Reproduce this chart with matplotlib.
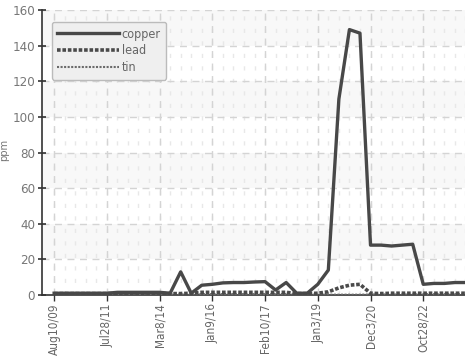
import matplotlib
matplotlib.use("Agg")
import matplotlib.pyplot as plt
import numpy as np

plt.rcParams['font.family'] = ['DejaVu Sans']
plt.rcParams['font.stretch'] = 'condensed'

tick_labels = ["Aug10/09", "Jul28/11", "Mar8/14", "Jan9/16", "Feb10/17", "Jan3/19", "Dec3/20", "Oct28/22"]
tick_every = 5

copper = [1, 1, 1, 1, 1, 1, 1.5, 1.5, 1.5, 1.5, 1.5, 1, 13, 1, 5.5, 6, 6.8, 7, 7, 7.3,
          7.5, 2.8, 7, 1, 1, 6, 14, 110, 149, 147, 28, 28, 27.5, 28, 28.5, 6, 6.5, 6.5, 7, 7]
lead = [0.8, 0.8, 0.8, 0.8, 0.8, 0.8, 0.8, 0.8, 0.8, 0.8, 0.8, 0.8, 0.8, 1, 1.5, 1.5, 1.5, 1.5, 1.5, 1.5,
        1.5, 1.5, 1.5, 0.8, 0.8, 1, 1.8, 4, 5.5, 6, 1, 0.8, 1, 1, 1, 1, 1, 1, 1, 1]
tin = [0.3, 0.3, 0.3, 0.3, 0.3, 0.3, 0.3, 0.3, 0.3, 0.3, 0.3, 0.3, 0.3, 0.3, 0.5, 0.5, 0.5, 0.5, 0.5, 0.5,
       0.5, 0.5, 0.5, 0.2, 0.2, 0.2, 0.2, 0.2, 0.2, 0.2, 0.3, 0.3, 0.3, 0.3, 0.3, 0.5, 0.5, 0.5, 0.5, 0.5]

x = np.arange(len(copper))

fig = plt.figure(figsize=(4.65, 3.61), dpi=100)
ax = fig.add_axes([42/465, 1-295/361, 1-42/465 + 0.01, (295-10)/361])

# background bands
for lo in range(0, 160, 20):
    if (lo // 20) % 2 == 1:
        ax.axhspan(lo, lo + 20, color='#f8f8f8', zorder=0, lw=0)

# minor vertical grid
for xi in x:
    ax.axvline(xi, color='#e8e8e8', lw=1, ls=(0, (3, 6)), zorder=0.5)
# major grid
for xi in x[::tick_every]:
    ax.axvline(xi, color='#d4d4d4', lw=1, ls=(0, (5, 4)), zorder=0.6)
for yv in range(20, 161, 20):
    ax.axhline(yv, color='#d4d4d4', lw=1, ls=(0, (5, 4)), zorder=0.6)

ax.plot(x, tin, color='#6a6a6a', lw=1.5, ls=(0, (1, 0.7)), label='tin', zorder=3)
ax.plot(x, lead, color='#4a4a4a', lw=2.6, ls=(0, (1, 0.5)), label='lead', zorder=3)
ax.plot(x, copper, color='#484848', lw=2.4, label='copper', zorder=4)

ax.set_xlim(-1.15, 39.4)
ax.set_ylim(0, 160)
ax.set_yticks(range(0, 161, 20))
ax.set_xticks(x[::tick_every])
ax.set_xticklabels(tick_labels, rotation=90, color='#666666', fontsize=8.5)
ax.tick_params(axis='y', colors='#333333', labelcolor='#777777', labelsize=9.5, direction='inout', length=6, width=1.2, pad=2)
ax.tick_params(axis='x', colors='#333333', labelcolor='#666666', direction='out', length=4, width=1, pad=2)
for s in ['top', 'right']:
    ax.spines[s].set_visible(False)
ax.spines['left'].set_color('#333333')
ax.spines['left'].set_linewidth(1.2)
ax.spines['bottom'].set_color('#333333')
ax.spines['bottom'].set_linewidth(1.2)
ax.set_ylabel('ppm', color='#777777', fontsize=8)
ax.yaxis.set_label_coords(-0.077, 0.51)

h, l = ax.get_legend_handles_labels()
order = [2, 1, 0]
leg = ax.legend([h[i] for i in order], [l[i] for i in order], loc='upper left',
                bbox_to_anchor=(0.023, 0.958), borderaxespad=0, handlelength=4.9, handletextpad=0.25,
                labelspacing=0.3, fontsize=9, frameon=True, fancybox=True,
                borderpad=0.45, framealpha=1)
leg.get_frame().set_facecolor('#efefef')
leg.get_frame().set_edgecolor('#bbbbbb')
for t in leg.get_texts():
    t.set_color('#666666')

fig.savefig('out.png', dpi=100)
